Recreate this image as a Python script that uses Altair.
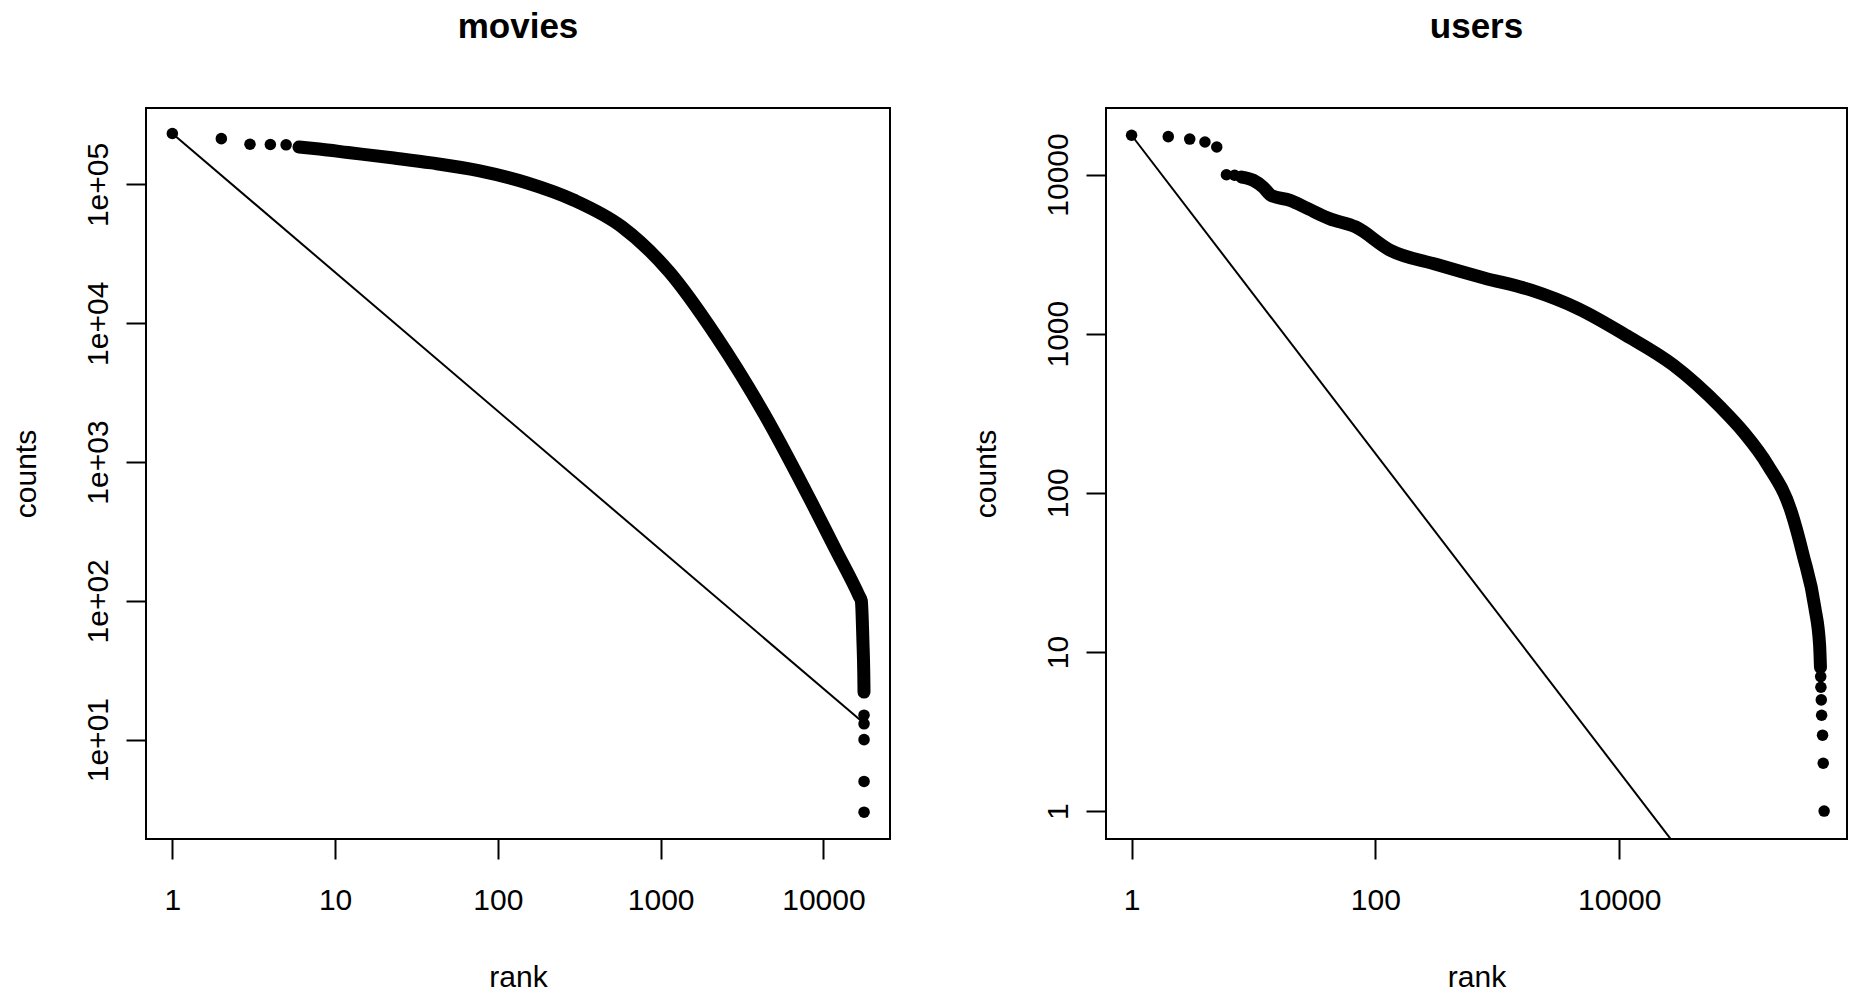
import altair as alt
import pandas as pd

# ---- movies: number of ratings per movie, by popularity rank ----
movie_pt_rank = [1, 2, 3, 4, 5]
movie_pt_count = [232944, 214000, 195000, 194000, 193000]
# the dense run of points, traced along its centre
movie_band_rank = [6, 8, 12, 23, 39, 76, 150, 294, 575, 1125, 2207, 4330,
                   8480, 11860, 16600, 17100, 17500, 17700, 17760]
movie_band_count = [186000, 180000, 170000, 155000, 143000, 126000, 103000,
                    77000, 49800, 23600, 7980, 2220, 509, 235, 108, 100, 50,
                    30, 22]
movie_tail_rank = [17765, 17767, 17768, 17769, 17770]
movie_tail_count = [15, 13, 10, 5, 3]
# Zipf reference line: count = max / rank
movie_line_rank = [1, 17770]
movie_line_count = [232944, 13.1]

# ---- users: number of ratings per user, by activity rank ----
user_pt_rank = [1, 2, 3, 4, 5, 6, 7]
user_pt_count = [17653, 17300, 16700, 16000, 14900, 9970, 9900]
user_band_rank = [8, 10, 12, 14, 20, 28, 42, 69, 131, 319, 779, 1900, 4650,
                  11300, 27700, 67600, 105600, 165000, 258000, 322000, 403000,
                  441000, 448000]
user_band_count = [9640, 9190, 8340, 7390, 6880, 6100, 5280, 4680, 3360,
                   2720, 2240, 1876, 1432, 980, 637, 346, 239, 150, 76, 41,
                   19, 11, 8]
user_tail_rank = [450000, 452000, 455000, 458000, 466000, 472000, 480189]
user_tail_count = [7, 6, 5, 4, 3, 2, 1]
user_line_rank = [1, 480189]
user_line_count = [17653, 0.0368]

FONT = "Liberation Sans, Arial, sans-serif"
DOT = 13            # point diameter in px
PLOT_H = 731


def label_expr(values, labels):
    expr = "''"
    for v, lab in zip(reversed(values), reversed(labels)):
        expr = f"datum.value == {v} ? '{lab}' : ({expr})"
    return expr


def panel(title, pts, band, tail, line, xdom, ydom, xticks, xlabels,
          yticks, ylabels, width):
    x = alt.X(
        "rank:Q",
        scale=alt.Scale(type="log", domain=xdom, nice=False, zero=False),
        axis=alt.Axis(
            values=xticks, labelExpr=label_expr(xticks, xlabels),
            title="rank", titleX=width / 2, titleY=147,
            titleAlign="center", titleBaseline="alphabetic",
            labelBaseline="alphabetic", labelAlign="center",
            labelPadding=50, labelFlush=False,
        ),
    )
    y = alt.Y(
        "count:Q",
        scale=alt.Scale(type="log", domain=ydom, nice=False, zero=False),
        axis=alt.Axis(
            values=yticks, labelExpr=label_expr(yticks, ylabels),
            title="counts", titleX=-111, titleY=PLOT_H / 2, titleAngle=270,
            titleAlign="center", titleBaseline="alphabetic",
            labelAngle=270, labelAlign="center", labelBaseline="alphabetic",
            labelPadding=19, labelFlush=False,
        ),
    )
    pts_df = pd.DataFrame({"rank": pts[0] + tail[0], "count": pts[1] + tail[1]})
    band_df = pd.DataFrame({"rank": band[0], "count": band[1]})
    line_df = pd.DataFrame({"rank": line[0], "count": line[1]})

    band_layer = alt.Chart(band_df).mark_line(
        color="black", strokeWidth=DOT, strokeCap="round", strokeJoin="round",
        interpolate="monotone", clip=True,
    ).encode(x=x, y=y)
    pts_layer = alt.Chart(pts_df).mark_circle(
        color="black", opacity=1, size=3.14159 * DOT * DOT / 4, clip=True,
    ).encode(x="rank:Q", y="count:Q")
    line_layer = alt.Chart(line_df).mark_line(
        color="black", strokeWidth=2, clip=True,
    ).encode(x="rank:Q", y="count:Q")

    return alt.layer(band_layer, pts_layer, line_layer).properties(
        width=width, height=PLOT_H,
        title=alt.TitleParams(
            title, font=FONT, fontSize=35, fontWeight="bold", color="black",
            baseline="alphabetic", anchor="middle", frame="group", offset=35,
        ),
    )


movies = panel(
    "movies",
    (movie_pt_rank, movie_pt_count),
    (movie_band_rank, movie_band_count),
    (movie_tail_rank, movie_tail_count),
    (movie_line_rank, movie_line_count),
    xdom=[0.689, 25650], ydom=[1.923, 355700],
    xticks=[1, 10, 100, 1000, 10000],
    xlabels=["1", "10", "100", "1000", "10000"],
    yticks=[10, 100, 1000, 10000, 100000],
    ylabels=["1e+01", "1e+02", "1e+03", "1e+04", "1e+05"],
    width=744,
)

users = panel(
    "users",
    (user_pt_rank, user_pt_count),
    (user_band_rank, user_band_count),
    (user_tail_rank, user_tail_count),
    (user_line_rank, user_line_count),
    xdom=[0.617, 739600], ydom=[0.668, 26180],
    xticks=[1, 100, 10000],
    xlabels=["1", "100", "10000"],
    yticks=[1, 10, 100, 1000, 10000],
    ylabels=["1", "10", "100", "1000", "10000"],
    width=741,
)

chart = alt.hconcat(movies, users, spacing=216, bounds="flush").properties(
    padding={"left": 10, "top": 9, "right": 0, "bottom": 0},
    background="white",
).configure_view(
    stroke="black", strokeWidth=2, fill="white",
).configure_axis(
    domain=False, grid=False,
    tickSize=20, tickWidth=2, tickColor="black",
    labelFont=FONT, labelFontSize=30, labelColor="black",
    titleFont=FONT, titleFontSize=30, titleFontWeight="normal",
    titleColor="black",
)

chart.save("out.html", embed_options={"renderer": "svg", "actions": False})
